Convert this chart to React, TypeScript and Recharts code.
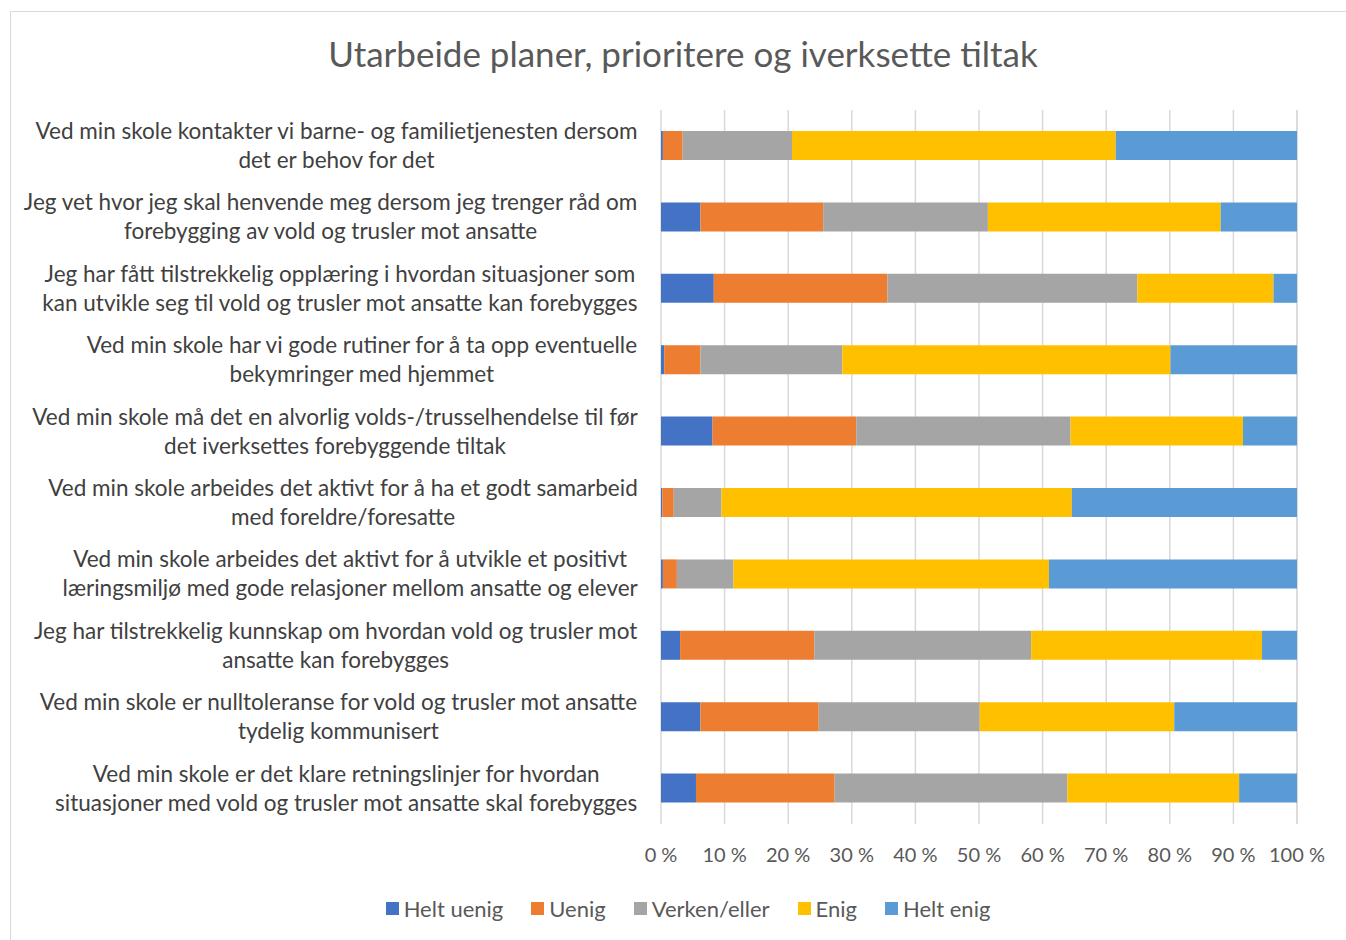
import { Bar, BarChart, CartesianGrid, XAxis, YAxis } from "recharts";

const categories = [
  "Ved min skole kontakter vi barne- og familietjenesten dersom\ndet er behov for det",
  "Jeg vet hvor jeg skal henvende meg dersom jeg trenger råd om\nforebygging av vold og trusler mot ansatte",
  "Jeg har fått tilstrekkelig opplæring i hvordan situasjoner som\nkan utvikle seg til vold og trusler mot ansatte kan forebygges",
  "Ved min skole har vi gode rutiner for å ta opp eventuelle\nbekymringer med hjemmet",
  "Ved min skole må det en alvorlig volds-/trusselhendelse til før\ndet iverksettes forebyggende tiltak",
  "Ved min skole arbeides det aktivt for å ha et godt samarbeid\nmed foreldre/foresatte",
  "Ved min skole arbeides det aktivt for å utvikle et positivt\nlæringsmiljø med gode relasjoner mellom ansatte og elever",
  "Jeg har tilstrekkelig kunnskap om hvordan vold og trusler mot\nansatte kan forebygges",
  "Ved min skole er nulltoleranse for vold og trusler mot ansatte\ntydelig kommunisert",
  "Ved min skole er det klare retningslinjer for hvordan\nsituasjoner med vold og trusler mot ansatte skal forebygges",
];

const heltUenig = [0.3, 6.2, 8.3, 0.5, 8.1, 0.2, 0.3, 3.0, 6.2, 5.5];
const uenig = [3.1, 19.3, 27.3, 5.7, 22.6, 1.8, 2.2, 21.1, 18.6, 21.8];
const verkenEller = [17.2, 25.9, 39.3, 22.3, 33.7, 7.5, 8.9, 34.1, 25.3, 36.6];
const enig = [50.9, 36.6, 21.4, 51.6, 27.1, 55.1, 49.6, 36.3, 30.6, 27.0];
const heltEnig = [28.5, 12.0, 3.7, 19.9, 8.5, 35.4, 39.0, 5.5, 19.3, 9.1];

const seriesNames = ["Helt uenig", "Uenig", "Verken/eller", "Enig", "Helt enig"];
const seriesKeys = ["heltUenig", "uenig", "verkenEller", "enig", "heltEnig"];
const seriesColors = ["#4472C4", "#ED7D31", "#A5A5A5", "#FFC000", "#5B9BD5"];
const xTicks = [0, 10, 20, 30, 40, 50, 60, 70, 80, 90, 100];

const data = categories.map((name, i) => ({
  name,
  heltUenig: heltUenig[i],
  uenig: uenig[i],
  verkenEller: verkenEller[i],
  enig: enig[i],
  heltEnig: heltEnig[i],
}));

const FONT = "Lato, 'Open Sans', sans-serif";
const LABEL_SIZE = 22.5;

let ctx: CanvasRenderingContext2D | null = null;
function measure(s: string) {
  if (!ctx) ctx = document.createElement("canvas").getContext("2d");
  if (!ctx) return s.length * 10;
  ctx.font = `${LABEL_SIZE}px Lato`;
  return ctx.measureText(s).width;
}

function CategoryTick({ x, y, payload }: any) {
  const lines = String(payload.value).split("\n");
  const w = Math.max(...lines.map(measure));
  const cx = x - 23 - w / 2;
  return (
    <text x={cx} y={y} textAnchor="middle" fill="#404040" fontSize={LABEL_SIZE} fontFamily={FONT}>
      {lines.map((l, i) => (
        <tspan key={i} x={cx} y={y + (i - (lines.length - 1) / 2) * 29} dy="0.35em">
          {l}
        </tspan>
      ))}
    </text>
  );
}

export default function App() {
  return (
    <div style={{ position: "relative", width: 1346, height: 940, fontFamily: FONT, background: "#fff" }}>
      <style>{"body{margin:0}"}</style>
      <div
        style={{
          position: "absolute",
          left: 10,
          top: 11,
          width: 1345,
          height: 935,
          border: "1px solid #d9d9d9",
          boxSizing: "border-box",
        }}
      />
      <div
        style={{
          position: "absolute",
          top: 32,
          left: 0,
          width: 1366,
          textAlign: "center",
          fontSize: 35,
          color: "#595959",
        }}
      >
        Utarbeide planer, prioritere og iverksette tiltak
      </div>
      <div style={{ position: "absolute", left: 0, top: 0 }}>
        <BarChart
          width={1346}
          height={940}
          data={data}
          layout="vertical"
          margin={{ top: 110, right: 49, bottom: 86, left: 0 }}
          barSize={29}
        >
          <CartesianGrid horizontal={false} stroke="#d9d9d9" strokeWidth={1.5} />
          <XAxis
            type="number"
            domain={[0, 100]}
            ticks={xTicks}
            tickFormatter={(v) => `${v} %`}
            axisLine={false}
            tickLine={false}
            tickMargin={18}
            tick={{ fontSize: 20, fill: "#595959", fontFamily: FONT }}
          />
          <YAxis
            type="category"
            dataKey="name"
            width={661}
            axisLine={false}
            tickLine={false}
            tickSize={0}
            tickMargin={0}
            interval={0}
            tick={<CategoryTick />}
          />
          {seriesKeys.map((k, i) => (
            <Bar
              key={k}
              dataKey={k}
              name={seriesNames[i]}
              stackId="a"
              fill={seriesColors[i]}
              isAnimationActive={false}
            />
          ))}
        </BarChart>
      </div>
      <div
        style={{
          position: "absolute",
          top: 895,
          left: 0,
          width: 1376,
          display: "flex",
          justifyContent: "center",
          gap: 28,
          fontSize: 22,
          color: "#595959",
        }}
      >
        {seriesNames.map((n, i) => (
          <div key={n} style={{ display: "flex", alignItems: "center", gap: 5 }}>
            <span style={{ width: 13, height: 13, background: seriesColors[i], display: "inline-block" }} />
            <span>{n}</span>
          </div>
        ))}
      </div>
    </div>
  );
}
